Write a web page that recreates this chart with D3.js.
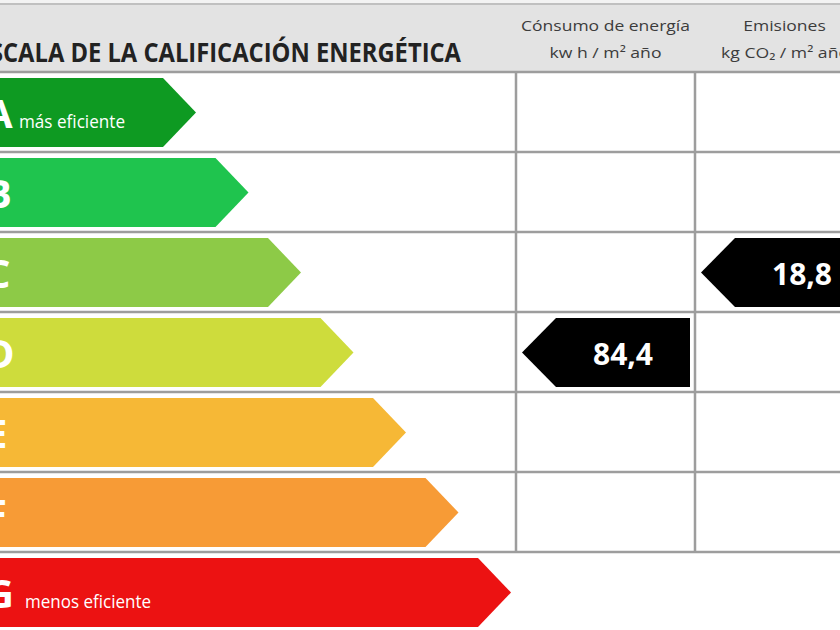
<!DOCTYPE html>
<html><head><meta charset="utf-8">
<script src="https://cdn.jsdelivr.net/npm/d3@7"></script>
<style>html,body{margin:0;padding:0;background:#fff;overflow:hidden}</style>
</head><body><svg id="chart" width="840" height="630"></svg>
<script>
// ---- data ----
const categories = ['A','B','C','D','E','F','G'];
const categoryColors = ['#0e9a22','#1fc44e','#8dca47','#cedc3c','#f6b836','#f79b36','#ec1212'];
const categoryNotes = ['más eficiente','','','','','','menos eficiente'];
const titleHidden = 'ES';
const titleVisible = 'CALA DE LA CALIFICACIÓN ENERGÉTICA';
const columnNames = ['Cónsumo de energía','Emisiones'];
const columnUnits = ['kw h / m² año','kg CO₂ / m² año'];
const ratingColumns = ['Cónsumo de energía','Emisiones'];
const ratingCategories = ['D','C'];
const ratingValues = [84.4, 18.8];

// ---- setup ----
const W = 840, H = 630, headerBottom = 72;
const svg = d3.select('#chart');
const FONT = "'Open Sans', 'Liberation Sans', sans-serif";
const fmt = d3.formatLocale({decimal: ',', thousands: '.', grouping: [3], currency: ['', '€']}).format('.1f');

const y = d3.scaleBand().domain(categories).range([headerBottom, headerBottom + 80 * categories.length]);
const tipX = d3.scalePoint().domain(categories).range([196, 511]);
const colX = d3.scaleBand().domain(columnNames).range([516, 874]);
const color = d3.scaleOrdinal().domain(categories).range(categoryColors);

svg.append('rect').attr('width', W).attr('height', H).attr('fill', '#fff');

// header band
svg.append('rect').attr('x', 0).attr('y', 0).attr('width', W).attr('height', headerBottom).attr('fill', '#e3e3e3');
svg.append('rect').attr('x', 0).attr('y', 0).attr('width', W).attr('height', 3).attr('fill', '#f3f3f3');
svg.append('line').attr('x1', 0).attr('x2', W).attr('y1', 4).attr('y2', 4).attr('stroke', '#b4b4b4').attr('stroke-width', 1.5);

// grid
const gridColor = '#9d9d9d';
svg.append('g').selectAll('line').data(categories).join('line')
  .attr('x1', 0).attr('x2', W)
  .attr('y1', d => y(d)).attr('y2', d => y(d))
  .attr('stroke', gridColor).attr('stroke-width', 2.5);
svg.append('g').selectAll('line').data(columnNames).join('line')
  .attr('x1', d => colX(d)).attr('x2', d => colX(d))
  .attr('y1', headerBottom).attr('y2', y(categories[categories.length - 1]))
  .attr('stroke', gridColor).attr('stroke-width', 2.5);

// rating arrows
const arrowTop = 6, arrowBottom = 75, tipLen = 33;
function rightArrow(c) {
  const t = y(c) + arrowTop, b = y(c) + arrowBottom, m = (t + b) / 2, x1 = tipX(c);
  return `M-5,${t}L${x1 - tipLen},${t}L${x1},${m}L${x1 - tipLen},${b}L-5,${b}Z`;
}
const rows = svg.append('g').selectAll('g').data(categories).join('g');
rows.append('path').attr('d', rightArrow).attr('fill', d => color(d));
rows.append('text')
  .attr('x', -15).attr('y', d => y(d) + y.bandwidth() / 2 + 16)
  .attr('font-family', FONT).attr('font-weight', 700).attr('font-size', 40)
  .attr('fill', '#fff').text(d => d);
rows.filter((d, i) => categoryNotes[i]).append('text')
  .attr('x', d => categories.indexOf(d) === 0 ? 19 : 25)
  .attr('y', d => y(d) + y.bandwidth() / 2 + 16)
  .attr('font-family', FONT).attr('font-size', 18)
  .attr('fill', '#fff')
  .text(d => categoryNotes[categories.indexOf(d)])
  .attr('textLength', d => categories.indexOf(d) === 0 ? 106 : 126)
  .attr('lengthAdjust', 'spacingAndGlyphs');

// value markers (black, left-pointing)
const markers = ratingValues.map((v, i) => ({col: ratingColumns[i], cat: ratingCategories[i], value: v}));
function leftArrow(d) {
  const t = y(d.cat) + arrowTop, b = y(d.cat) + arrowBottom, m = (t + b) / 2;
  const x0 = colX(d.col) + 6, x1 = colX(d.col) + colX.bandwidth() - 5;
  return `M${x0},${m}L${x0 + 34},${t}L${x1},${t}L${x1},${b}L${x0 + 34},${b}Z`;
}
const mg = svg.append('g').selectAll('g').data(markers).join('g');
mg.append('path').attr('d', leftArrow).attr('fill', '#000');
mg.append('text')
  .attr('x', d => (colX(d.col) + 40 + colX(d.col) + colX.bandwidth() - 5) / 2)
  .attr('y', d => y(d.cat) + (arrowTop + arrowBottom) / 2 + 12)
  .attr('text-anchor', 'middle')
  .attr('font-family', FONT).attr('font-weight', 700).attr('font-size', 30)
  .attr('fill', '#fff').text(d => fmt(d.value));

// header texts
function measure(text, size, weight) {
  const t = svg.append('text').attr('font-family', FONT).attr('font-size', size).attr('font-weight', weight).text(text);
  const w = t.node().getComputedTextLength();
  t.remove();
  return w;
}
function fittedText(x, yy, text, size, weight, len, anchor, fill) {
  return svg.append('text').attr('x', x).attr('y', yy).attr('text-anchor', anchor)
    .attr('font-family', FONT).attr('font-size', size).attr('font-weight', weight)
    .attr('fill', fill).attr('textLength', len).attr('lengthAdjust', 'spacingAndGlyphs')
    .text(text);
}
// title: "ES" runs off the left edge, the rest spans x 3..461
const tr = 458 / measure(titleVisible, 26, 700);
const esW = measure(titleHidden, 26, 700) * tr;
fittedText(3 - esW, 62, titleHidden, 26, 700, esW, 'start', '#222');
fittedText(3, 62, titleVisible, 26, 700, 458, 'start', '#222');

// column headers
const c0 = colX(columnNames[0]) + colX.bandwidth() / 2;
const c1 = colX(columnNames[1]) + colX.bandwidth() / 2;
const r1 = 169 / measure(columnNames[0], 15, 400);
fittedText(c0, 31, columnNames[0], 15, 400, 169, 'middle', '#3c3c3c');
fittedText(c1, 31, columnNames[1], 15, 400, measure(columnNames[1], 15, 400) * r1, 'middle', '#3c3c3c');
const r2 = 112 / measure(columnUnits[0], 15, 400);
fittedText(c0, 58, columnUnits[0], 15, 400, 112, 'middle', '#3c3c3c');
fittedText(721, 58, columnUnits[1], 15, 400, measure(columnUnits[1], 15, 400) * r2, 'start', '#3c3c3c');
</script></body></html>
